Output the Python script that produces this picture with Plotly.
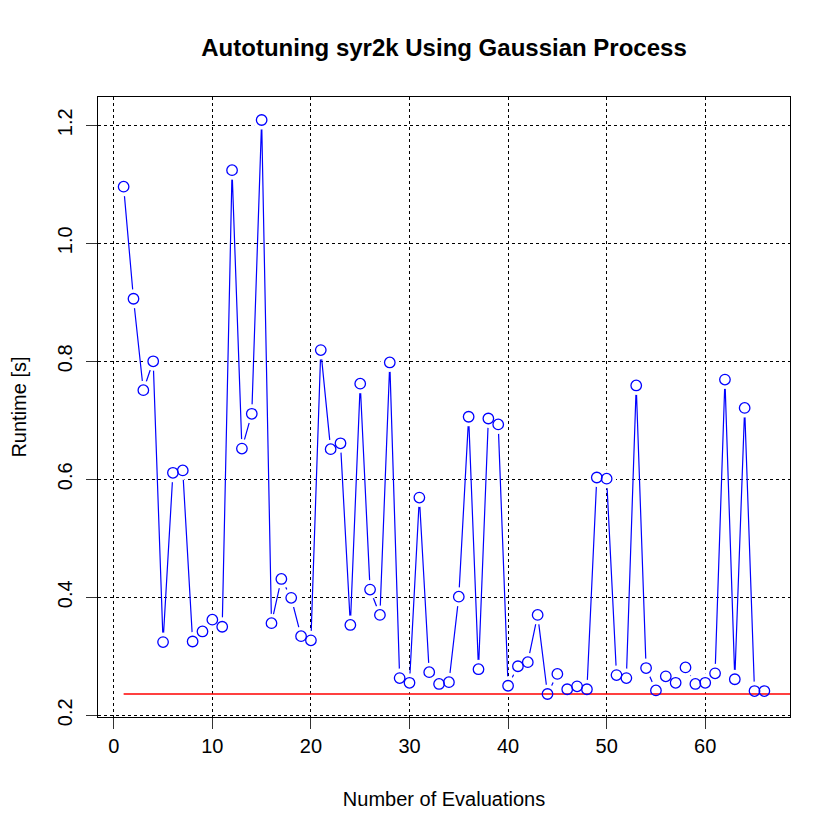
import plotly.graph_objects as go

# ── data ──────────────────────────────────────────────────────────────────────
evals = list(range(1, 67))
runtime = [
    1.096, 0.906, 0.751, 0.800, 0.324, 0.611, 0.615, 0.325, 0.342, 0.362,
    0.350, 1.124, 0.652, 0.711, 1.209, 0.356, 0.431, 0.399, 0.334, 0.327,
    0.819, 0.651, 0.661, 0.353, 0.762, 0.413, 0.370, 0.798, 0.263, 0.255,
    0.569, 0.273, 0.253, 0.256, 0.401, 0.706, 0.278, 0.703, 0.693, 0.250,
    0.283, 0.290, 0.370, 0.236, 0.270, 0.244, 0.249, 0.244, 0.603, 0.601,
    0.268, 0.263, 0.759, 0.280, 0.242, 0.266, 0.255, 0.281, 0.253, 0.255,
    0.271, 0.769, 0.261, 0.721, 0.241, 0.241,
]
x_ticks = [0, 10, 20, 30, 40, 50, 60]
y_ticks = [0.2, 0.4, 0.6, 0.8, 1.0, 1.2]
x_range = [-1.6, 68.6]
y_range = [0.197, 1.248]

best = min(runtime)
BLUE = "#0000FF"
FONT = "Liberation Sans, Arial, Helvetica, sans-serif"

fig = go.Figure()

# connecting line (R type="b")
fig.add_trace(go.Scatter(
    x=evals, y=runtime, mode="lines",
    line=dict(color=BLUE, width=1.2),
    hoverinfo="skip", showlegend=False,
))
# white halo so the line stops short of each point, like R's type="b"
fig.add_trace(go.Scatter(
    x=evals, y=runtime, mode="markers",
    marker=dict(symbol="circle", size=19, color="white", line=dict(width=0)),
    hoverinfo="skip", showlegend=False,
))
# best runtime so far
fig.add_trace(go.Scatter(
    x=[evals[0], x_range[1]], y=[best, best], mode="lines",
    line=dict(color="#FF0000", width=1.3),
    hoverinfo="skip", showlegend=False,
))
# open circles
fig.add_trace(go.Scatter(
    x=evals, y=runtime, mode="markers",
    marker=dict(symbol="circle-open", size=10.5, color=BLUE,
                line=dict(color=BLUE, width=1.3)),
    hovertemplate="%{x}: %{y:.3f} s<extra></extra>",
    showlegend=False,
))

axis_common = dict(
    showline=True, linecolor="black", linewidth=1.2, mirror=True,
    ticks="outside", ticklen=11, tickwidth=1.2, tickcolor="#333",
    showgrid=True, gridcolor="black", gridwidth=1, griddash="dot",
    zeroline=False, automargin=False,
    tickfont=dict(family=FONT, size=20, color="black"),
)

fig.update_layout(
    width=840, height=840,
    paper_bgcolor="white", plot_bgcolor="white",
    font=dict(family=FONT, size=20, color="black"),
    margin=dict(l=90, r=58, t=89, b=131),
    title=dict(
        text="<b>Autotuning syr2k Using Gaussian Process</b>",
        font=dict(family=FONT, size=24, color="black"),
        x=0.5, xref="paper", xanchor="center",
        y=1 - 40 / 840, yref="container", yanchor="middle",
    ),
    xaxis=dict(
        **axis_common,
        range=x_range, tickvals=x_ticks,
        title=dict(text="Number of Evaluations", standoff=35,
                   font=dict(family=FONT, size=20)),
    ),
    yaxis=dict(
        **axis_common,
        range=y_range, tickvals=y_ticks, ticktext=[f"{v:.1f}" for v in y_ticks],
        tickangle=-90, ticklabelstandoff=6,
        title=dict(text="Runtime [s]", standoff=23,
                   font=dict(family=FONT, size=20)),
    ),
)

fig.write_html("out.html")
